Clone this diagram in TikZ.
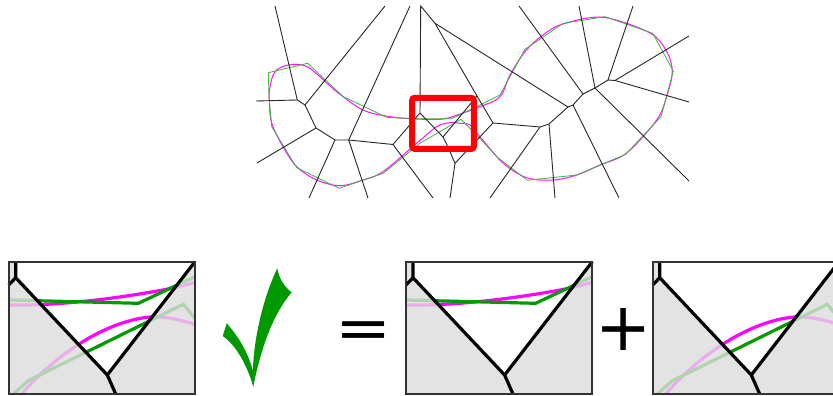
\documentclass[tikz,border=0pt]{standalone}
\usepackage{fontspec}
\setmainfont{DejaVu Sans}
\definecolor{mag}{HTML}{FF00FF}
\definecolor{grn}{HTML}{009900}
\definecolor{magfade}{HTML}{E8B0E8}
\definecolor{grnfade}{HTML}{B2D3B2}
\definecolor{cellgray}{HTML}{E3E3E3}
\tikzset{
  edgeline/.style={black!85,line width=0.9pt},
  thingreen/.style={draw=grn!75!white,line width=0.8pt,line join=round},
  thinmag/.style={draw=mag!90!white,line width=1.05pt},
  fatline/.style={line width=3.2pt,line join=miter},
  cellline/.style={black,line width=3.2pt,line join=miter},
  frameline/.style={black!80,line width=1.7pt},
  bigsym/.style={inner sep=0pt,font=\fontsize{67}{67}\selectfont}
}
\newcommand{\greenA}{(8.7,300) -- (138.3,303.3) -- (195,276.7)}
\newcommand{\magA}{(8.7,305) .. controls (60,306) and (120,298) .. (166.7,289.3) .. controls (177,287) and (186,285) .. (195,282.3)}
\newcommand{\greenB}{(13.3,394) -- (28.3,380.7) -- (183.3,304.3) -- (195,318.3)}
\newcommand{\magB}{(21.7,394) .. controls (40,372) and (90,325) .. (146.7,317.3) .. controls (165,315.5) and (180,320) .. (195,324.3)}
\newcommand{\wedgepath}{(15.7,261.7) -- (15.7,277.7) -- (107.3,375) -- (195,261.7) -- cycle}
\newcommand{\cellsframe}{%
  \draw[cellline] (15.7,261.7) -- (15.7,277.7) -- (107.3,375) -- (115.7,394);
  \draw[cellline] (8.7,285) -- (15.7,277.7);
  \draw[cellline] (107.3,375) -- (195,261.7);
  \draw[frameline] (8.7,261.7) rectangle (195,394);
}
\begin{document}
\begin{tikzpicture}[x=1pt,y=-1pt]
\useasboundingbox (0,0) rectangle (833,396);
\clip (0,0) rectangle (833,396);
% outline curves
\draw[thinmag] plot[smooth cycle,tension=.55] coordinates {(270,86.7) (275,71.7) (288,65) (305,65.7) (318,75) (336.7,91.7) (363,110) (390,116.7) (416.7,119) (443,119) (463,113) (480,106.7) (500,96.7) (510,75) (525,51.7) (543,35) (563,24) (603,17.3) (650,33) (666.7,51.7) (672.3,71.7) (666.7,96.7) (656.7,120) (626.7,153) (600,165) (576.7,175) (553,180) (526.7,177.7) (503,163) (480,136.7) (470,125) (460,123.3) (450,122.7) (436.7,126.7) (416.7,143.3) (383,171.7) (363,180) (340,185.7) (316.7,180) (296.7,166.7) (283,146.7) (271.7,123) (269.3,100)};
\draw[thingreen] (268.3,72.7) -- (307.7,63.3) -- (343.3,96.7) -- (386.7,117.3) -- (416.7,118.7) -- (451.7,118.7) -- (476.7,106.7) -- (500,95) -- (525,49.3) -- (563.3,23.3) -- (605,16.7) -- (652.7,33.3) -- (673.3,71) -- (661,116.7) -- (625.7,154.3) -- (576.7,175) -- (527.3,180.3) -- (496.7,156.7) -- (476.7,135) -- (461,119.3) -- (420,143.3) -- (383.3,173.3) -- (339.3,188.3) -- (296.7,167.7) -- (271.7,126.7) -- (269,96.7) -- cycle;
% cell vertices
\coordinate (va) at (297.3,100);
\coordinate (vb) at (305,105);
\coordinate (vc) at (316,128);
\coordinate (vd) at (335,140);
\coordinate (ve) at (348.7,140);
\coordinate (vf) at (393,144.5);
\coordinate (vg) at (420,113);
\coordinate (vh) at (443,137);
\coordinate (vi) at (447,145);
\coordinate (vj) at (455,163.3);
\coordinate (vk) at (493,123);
\coordinate (vl) at (435,23.3);
\coordinate (vm) at (420.7,6);
\coordinate (vn) at (477,96);
\coordinate (vo) at (540,127);
\coordinate (vp) at (549,124);
\coordinate (vq) at (568,107);
\coordinate (vr) at (573,105);
\coordinate (vs) at (583,94);
\coordinate (vt) at (595,88);
\coordinate (vu) at (608,80);
\coordinate (vv) at (615,80.5);
% free ends
\coordinate (e1) at (275,6);
\coordinate (e2) at (256,101);
\coordinate (e3) at (385,6);
\coordinate (e4) at (257,163);
\coordinate (e5) at (309,198);
\coordinate (e6) at (368,198);
\coordinate (e7) at (410,6);
\coordinate (e8) at (433,198);
\coordinate (e9) at (450,198);
\coordinate (e10) at (490,198);
\coordinate (e11) at (555,198);
\coordinate (e12) at (619,198);
\coordinate (e13) at (689,181);
\coordinate (e14) at (689,102);
\coordinate (e15) at (689,36);
\coordinate (e16) at (633,6);
\coordinate (e17) at (579,6);
\coordinate (e18) at (519,6);
\draw[edgeline] (e1) -- (va) -- (vb) -- (e3);
\draw[edgeline] (e2) -- (va);
\draw[edgeline] (vb) -- (vc) -- (e4);
\draw[edgeline] (vc) -- (vd) -- (ve) -- (e7);
\draw[edgeline] (vd) -- (e5);
\draw[edgeline] (ve) -- (e6);
\draw[edgeline] (ve) -- (vf) -- (vg) -- (vm) -- (vl) -- (vn) -- (vk);
\draw[edgeline] (vf) -- (e8);
\draw[edgeline] (vg) -- (vh) -- (vi) -- (vj) -- (e9);
\draw[edgeline] (vh) -- (vn);
\draw[edgeline] (vj) -- (vk) -- (vo) -- (vp) -- (vq) -- (vr) -- (vs) -- (vt) -- (vu) -- (vv);
\draw[edgeline] (vl) -- (vq);
\draw[edgeline] (vo) -- (e10);
\draw[edgeline] (vp) -- (e11);
\draw[edgeline] (vr) -- (e12);
\draw[edgeline] (vt) -- (e13);
\draw[edgeline] (vv) -- (e14);
\draw[edgeline] (vv) -- (e15);
\draw[edgeline] (vu) -- (e16);
\draw[edgeline] (vt) -- (e17);
\draw[edgeline] (vs) -- (e18);
% red window
\draw[red,line width=6pt,rounded corners=2.5pt] (412.2,97.8) rectangle (473.8,148.9);
% panel 1
\begin{scope}
\fill[cellgray] (8.7,261.7) rectangle (195,394);
\draw[magfade,fatline] \magA;
\draw[grnfade,fatline] \greenA;
\draw[magfade,fatline] \magB;
\draw[grnfade,fatline] \greenB;
\fill[white] \wedgepath;
\begin{scope}
\clip \wedgepath;
\draw[mag,fatline] \magA;
\draw[grn,fatline] \greenA;
\draw[mag,fatline] \magB;
\draw[grn,fatline] \greenB;
\end{scope}
\cellsframe
\end{scope}
% panel 2
\begin{scope}[xshift=397.3pt]
\fill[cellgray] (8.7,261.7) rectangle (195,394);
\draw[magfade,fatline] \magA;
\draw[grnfade,fatline] \greenA;
\fill[white] \wedgepath;
\begin{scope}
\clip \wedgepath;
\draw[mag,fatline] \magA;
\draw[grn,fatline] \greenA;
\end{scope}
\cellsframe
\end{scope}
% panel 3
\begin{scope}[xshift=644pt]
\fill[cellgray] (8.7,261.7) rectangle (195,394);
\draw[magfade,fatline] \magB;
\draw[grnfade,fatline] \greenB;
\fill[white] \wedgepath;
\begin{scope}
\clip \wedgepath;
\draw[mag,fatline] \magB;
\draw[grn,fatline] \greenB;
\end{scope}
\cellsframe
\end{scope}
% check mark
\fill[grn] (253.3,386.7) .. controls (250.5,350) and (262,300) .. (277.3,268.3)
  .. controls (279,278) and (284,287) .. (291.7,292.3)
  .. controls (272,315) and (260,352) .. (253.3,386.7) -- cycle;
\fill[grn] (253.3,386.7) .. controls (247,365) and (236,345) .. (222.7,336)
  -- (226.7,323.3) .. controls (238,336) and (248,352) .. (253.3,372) -- cycle;
% operators
\node[bigsym,yscale=.88] (eq) at (363.2,335) {=};
\node[bigsym] (pl) at (623.3,329.5) {+};
\end{tikzpicture}
\end{document}
